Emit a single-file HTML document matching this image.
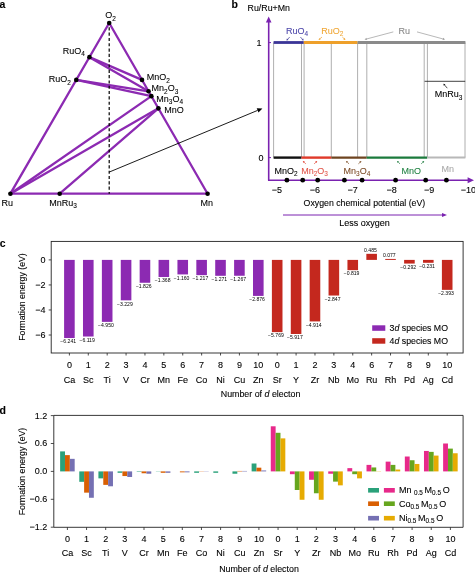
<!DOCTYPE html>
<html><head><meta charset="utf-8"><style>
html,body{margin:0;padding:0;background:#fff;}
svg{display:block;font-family:"Liberation Sans", sans-serif;will-change:transform;}
text{stroke:#000;stroke-width:0.1px;}
</style></head><body>
<svg width="475" height="573" viewBox="0 0 475 573">
<rect width="475" height="573" fill="#fff"/>
<text x="-0.6" y="7.8" font-size="10.5" font-weight="bold">a</text>
<line x1="10.40" y1="193.70" x2="207.60" y2="193.70" stroke="#8c2ab2" stroke-width="2.3" stroke-linecap="round"/>
<line x1="10.40" y1="193.70" x2="109.20" y2="23.00" stroke="#8c2ab2" stroke-width="2.3" stroke-linecap="round"/>
<line x1="109.20" y1="23.00" x2="207.60" y2="193.70" stroke="#8c2ab2" stroke-width="2.3" stroke-linecap="round"/>
<line x1="89.44" y1="57.14" x2="142.00" y2="79.90" stroke="#8c2ab2" stroke-width="2.3" stroke-linecap="round"/>
<line x1="89.44" y1="57.14" x2="148.56" y2="91.28" stroke="#8c2ab2" stroke-width="2.3" stroke-linecap="round"/>
<line x1="76.27" y1="79.90" x2="148.56" y2="91.28" stroke="#8c2ab2" stroke-width="2.3" stroke-linecap="round"/>
<line x1="76.27" y1="79.90" x2="151.37" y2="96.16" stroke="#8c2ab2" stroke-width="2.3" stroke-linecap="round"/>
<line x1="10.40" y1="193.70" x2="151.37" y2="96.16" stroke="#8c2ab2" stroke-width="2.3" stroke-linecap="round"/>
<line x1="10.40" y1="193.70" x2="158.40" y2="108.35" stroke="#8c2ab2" stroke-width="2.3" stroke-linecap="round"/>
<line x1="59.70" y1="193.70" x2="158.40" y2="108.35" stroke="#8c2ab2" stroke-width="2.3" stroke-linecap="round"/>
<line x1="109.2" y1="27.3" x2="109.2" y2="193.7" stroke="#000" stroke-width="1.2" stroke-dasharray="3.1 2.21"/>
<circle cx="10.40" cy="193.70" r="2.3" fill="#000"/>
<circle cx="207.60" cy="193.70" r="2.3" fill="#000"/>
<circle cx="109.20" cy="23.00" r="2.3" fill="#000"/>
<circle cx="89.44" cy="57.14" r="2.3" fill="#000"/>
<circle cx="76.27" cy="79.90" r="2.3" fill="#000"/>
<circle cx="142.00" cy="79.90" r="2.3" fill="#000"/>
<circle cx="148.56" cy="91.28" r="2.3" fill="#000"/>
<circle cx="151.37" cy="96.16" r="2.3" fill="#000"/>
<circle cx="158.40" cy="108.35" r="2.3" fill="#000"/>
<circle cx="59.70" cy="193.70" r="2.3" fill="#000"/>
<text x="105.3" y="18.2" font-size="9" fill="#000" text-anchor="start" style="stroke-width:0.08px;stroke:#000"><tspan>O</tspan><tspan font-size="6.48" dy="2.4">2</tspan></text>
<text x="62.8" y="54.0" font-size="9" fill="#000" text-anchor="start" style="stroke-width:0.08px;stroke:#000"><tspan>RuO</tspan><tspan font-size="6.48" dy="2.4">4</tspan></text>
<text x="48.8" y="82.2" font-size="9" fill="#000" text-anchor="start" style="stroke-width:0.08px;stroke:#000"><tspan>RuO</tspan><tspan font-size="6.48" dy="2.4">2</tspan></text>
<text x="146.8" y="80.1" font-size="9" fill="#000" text-anchor="start" style="stroke-width:0.08px;stroke:#000"><tspan>MnO</tspan><tspan font-size="6.48" dy="2.4">2</tspan></text>
<text x="151.6" y="91.1" font-size="9" fill="#000" text-anchor="start" style="stroke-width:0.08px;stroke:#000"><tspan>Mn</tspan><tspan font-size="6.48" dy="2.4">2</tspan><tspan dy="-2.4">O</tspan><tspan font-size="6.48" dy="2.4">3</tspan></text>
<text x="156.3" y="101.7" font-size="9" fill="#000" text-anchor="start" style="stroke-width:0.08px;stroke:#000"><tspan>Mn</tspan><tspan font-size="6.48" dy="2.4">3</tspan><tspan dy="-2.4">O</tspan><tspan font-size="6.48" dy="2.4">4</tspan></text>
<text x="164.2" y="113.1" font-size="9" fill="#000" text-anchor="start" style="stroke-width:0.08px;stroke:#000"><tspan>MnO</tspan></text>
<text x="1.5" y="205.8" font-size="9" fill="#000" text-anchor="start" style="stroke-width:0.08px;stroke:#000"><tspan>Ru</tspan></text>
<text x="49.3" y="205.8" font-size="9" fill="#000" text-anchor="start" style="stroke-width:0.08px;stroke:#000"><tspan>MnRu</tspan><tspan font-size="6.48" dy="2.4">3</tspan></text>
<text x="200.6" y="205.8" font-size="9" fill="#000" text-anchor="start" style="stroke-width:0.08px;stroke:#000"><tspan>Mn</tspan></text>
<text x="231.6" y="7.8" font-size="10.5" font-weight="bold">b</text>
<text x="247.6" y="11.2" font-size="8.8">Ru/Ru+Mn</text>
<line x1="268.7" y1="21" x2="268.7" y2="180.4" stroke="#7a22b0" stroke-width="1.6"/>
<path d="M268.7,16.6 L265.9,22.4 L271.5,22.4 Z" fill="#7a22b0"/>
<line x1="268" y1="180.3" x2="468.5" y2="180.3" stroke="#7a22b0" stroke-width="1.6"/>
<path d="M474,180.3 L467.6,177.3 L467.6,183.3 Z" fill="#7a22b0"/>
<line x1="268.7" y1="42.6" x2="271" y2="42.6" stroke="#7a22b0" stroke-width="1"/>
<line x1="268.7" y1="157.6" x2="271" y2="157.6" stroke="#7a22b0" stroke-width="1"/>
<text x="259.0" y="46" font-size="9" text-anchor="middle">1</text>
<text x="261" y="161" font-size="9" text-anchor="middle">0</text>
<line x1="273.6" y1="42.4" x2="273.6" y2="157.6" stroke="#9a9a9a" stroke-width="0.8"/>
<line x1="301.5" y1="42.4" x2="301.5" y2="157.6" stroke="#9a9a9a" stroke-width="0.8"/>
<line x1="304.1" y1="42.4" x2="304.1" y2="157.6" stroke="#9a9a9a" stroke-width="0.8"/>
<line x1="331.3" y1="42.4" x2="331.3" y2="157.6" stroke="#9a9a9a" stroke-width="0.8"/>
<line x1="357.6" y1="42.4" x2="357.6" y2="157.6" stroke="#9a9a9a" stroke-width="0.8"/>
<line x1="366.8" y1="42.4" x2="366.8" y2="157.6" stroke="#9a9a9a" stroke-width="0.8"/>
<line x1="424.2" y1="42.4" x2="424.2" y2="157.6" stroke="#9a9a9a" stroke-width="0.8"/>
<line x1="427.4" y1="42.4" x2="427.4" y2="157.6" stroke="#9a9a9a" stroke-width="0.8"/>
<line x1="465.0" y1="42.4" x2="465.0" y2="157.6" stroke="#9a9a9a" stroke-width="0.8"/>
<line x1="273.6" y1="42.5" x2="303.8" y2="42.5" stroke="#3a3597" stroke-width="2.8"/>
<line x1="303.8" y1="42.5" x2="357.6" y2="42.5" stroke="#eea02a" stroke-width="2.8"/>
<line x1="357.6" y1="42.5" x2="465.4" y2="42.5" stroke="#8a8a8a" stroke-width="2.8"/>
<line x1="273.6" y1="157.6" x2="301.5" y2="157.6" stroke="#111" stroke-width="2.4"/>
<line x1="301.5" y1="157.6" x2="331.3" y2="157.6" stroke="#e03a2a" stroke-width="2.4"/>
<line x1="331.3" y1="157.6" x2="366.7" y2="157.6" stroke="#6e4420" stroke-width="2.4"/>
<line x1="366.7" y1="157.6" x2="427.2" y2="157.6" stroke="#1b7a3c" stroke-width="2.4"/>
<line x1="427.2" y1="157.6" x2="465.4" y2="157.6" stroke="#b8b8b8" stroke-width="2.0"/>
<line x1="424.6" y1="81.3" x2="465.2" y2="81.3" stroke="#111" stroke-width="0.8"/>
<text x="286.0" y="33.8" font-size="9" fill="#4d47aa" text-anchor="start" style="stroke-width:0.08px;stroke:#4d47aa"><tspan>RuO</tspan><tspan font-size="6.48" dy="2.4">4</tspan></text>
<text x="321.3" y="33.6" font-size="9" fill="#f0a838" text-anchor="start" style="stroke-width:0.08px;stroke:#f0a838"><tspan>RuO</tspan><tspan font-size="6.48" dy="2.4">2</tspan></text>
<text x="404.2" y="33.8" font-size="9" fill="#888" text-anchor="middle" style="stroke-width:0.08px;stroke:#888">Ru</text>
<text x="434.7" y="97.1" font-size="9" fill="#000" text-anchor="start" style="stroke-width:0.08px;stroke:#000"><tspan>MnRu</tspan><tspan font-size="6.48" dy="2.4">3</tspan></text>
<text x="274.6" y="173.8" font-size="9" fill="#000" text-anchor="start" style="stroke-width:0.08px;stroke:#000"><tspan>MnO</tspan><tspan font-size="6.48" dy="2.4">2</tspan></text>
<text x="301.2" y="173.8" font-size="9" fill="#e2574c" text-anchor="start" style="stroke-width:0.08px;stroke:#e2574c"><tspan>Mn</tspan><tspan font-size="6.48" dy="2.4">2</tspan><tspan dy="-2.4">O</tspan><tspan font-size="6.48" dy="2.4">3</tspan></text>
<text x="343.6" y="173.8" font-size="9" fill="#7d4d28" text-anchor="start" style="stroke-width:0.08px;stroke:#7d4d28"><tspan>Mn</tspan><tspan font-size="6.48" dy="2.4">3</tspan><tspan dy="-2.4">O</tspan><tspan font-size="6.48" dy="2.4">4</tspan></text>
<text x="401.6" y="173.8" font-size="9" fill="#218243" text-anchor="start" style="stroke-width:0.08px;stroke:#218243"><tspan>MnO</tspan></text>
<text x="441.6" y="171.6" font-size="9" fill="#aaa" style="stroke-width:0.08px;stroke:#aaa">Mn</text>
<line x1="289.70" y1="37.00" x2="287.70" y2="39.25" stroke="#3a3597" stroke-width="0.7"/><path d="M286.50,40.60 L286.87,38.52 L288.52,39.99 Z" fill="#3a3597"/>
<line x1="300.40" y1="37.00" x2="302.40" y2="39.25" stroke="#3a3597" stroke-width="0.7"/><path d="M303.60,40.60 L301.58,39.99 L303.23,38.52 Z" fill="#3a3597"/>
<line x1="322.00" y1="37.00" x2="319.97" y2="38.73" stroke="#eea02a" stroke-width="0.7"/><path d="M318.60,39.90 L319.26,37.89 L320.68,39.57 Z" fill="#eea02a"/>
<line x1="342.30" y1="37.00" x2="344.09" y2="38.67" stroke="#eea02a" stroke-width="0.7"/><path d="M345.40,39.90 L343.33,39.47 L344.84,37.87 Z" fill="#eea02a"/>
<line x1="447.30" y1="88.20" x2="444.58" y2="85.06" stroke="#000" stroke-width="0.7"/><path d="M443.40,83.70 L445.41,84.34 L443.75,85.78 Z" fill="#000"/>
<line x1="305.80" y1="163.80" x2="304.14" y2="162.30" stroke="#e03a2a" stroke-width="0.7"/><path d="M302.80,161.10 L304.87,161.49 L303.40,163.12 Z" fill="#e03a2a"/>
<line x1="314.20" y1="163.80" x2="315.86" y2="162.30" stroke="#e03a2a" stroke-width="0.7"/><path d="M317.20,161.10 L316.60,163.12 L315.13,161.49 Z" fill="#e03a2a"/>
<line x1="349.00" y1="163.80" x2="347.34" y2="162.30" stroke="#7a4a20" stroke-width="0.7"/><path d="M346.00,161.10 L348.07,161.49 L346.60,163.12 Z" fill="#7a4a20"/>
<line x1="358.40" y1="163.80" x2="360.06" y2="162.30" stroke="#7a4a20" stroke-width="0.7"/><path d="M361.40,161.10 L360.80,163.12 L359.33,161.49 Z" fill="#7a4a20"/>
<line x1="400.00" y1="163.80" x2="398.34" y2="162.30" stroke="#1b7a3c" stroke-width="0.7"/><path d="M397.00,161.10 L399.07,161.49 L397.60,163.12 Z" fill="#1b7a3c"/>
<line x1="421.20" y1="163.80" x2="422.86" y2="162.30" stroke="#1b7a3c" stroke-width="0.7"/><path d="M424.20,161.10 L423.60,163.12 L422.13,161.49 Z" fill="#1b7a3c"/>
<line x1="109.40" y1="172.00" x2="257.60" y2="110.40" stroke="#000" stroke-width="0.9"/><path d="M262.40,108.40 L258.48,112.52 L256.72,108.27 Z" fill="#000"/>
<line x1="393.30" y1="31.90" x2="366.73" y2="38.94" stroke="#999" stroke-width="0.7"/><path d="M364.60,39.50 L366.42,37.78 L367.03,40.10 Z" fill="#999"/>
<line x1="417.00" y1="31.90" x2="442.88" y2="38.92" stroke="#999" stroke-width="0.7"/><path d="M445.00,39.50 L442.56,40.08 L443.19,37.77 Z" fill="#999"/>
<circle cx="286.9" cy="180.2" r="2.4" fill="#000"/>
<circle cx="302.7" cy="180.2" r="2.4" fill="#000"/>
<circle cx="317.7" cy="180.2" r="2.4" fill="#000"/>
<circle cx="344.4" cy="180.2" r="2.4" fill="#000"/>
<circle cx="362.1" cy="180.2" r="2.4" fill="#000"/>
<circle cx="395.6" cy="180.2" r="2.4" fill="#000"/>
<circle cx="425.7" cy="180.2" r="2.4" fill="#000"/>
<circle cx="446.4" cy="180.2" r="2.4" fill="#000"/>
<text x="277.0" y="193.2" font-size="9" text-anchor="middle">−5</text>
<text x="314.90000000000003" y="193.2" font-size="9" text-anchor="middle">−6</text>
<text x="352.6" y="193.2" font-size="9" text-anchor="middle">−7</text>
<text x="391.70000000000005" y="193.2" font-size="9" text-anchor="middle">−8</text>
<text x="429.1" y="193.2" font-size="9" text-anchor="middle">−9</text>
<text x="468.3" y="193.2" font-size="9" text-anchor="middle">−10</text>
<text x="303.6" y="206.4" font-size="8.75">Oxygen chemical potential (eV)</text>
<line x1="283" y1="215" x2="444" y2="215" stroke="#7a22b0" stroke-width="1"/>
<path d="M447,215 L442,213 L442,217 Z" fill="#7a22b0"/>
<text x="339.3" y="226.4" font-size="9">Less oxygen</text>
<text x="-0.3" y="246.7" font-size="10.5" font-weight="bold">c</text>
<rect x="51.2" y="241.4" width="411.90000000000003" height="111.6" fill="none" stroke="#222" stroke-width="0.9"/>
<line x1="48.7" y1="259.90" x2="51.2" y2="259.90" stroke="#222" stroke-width="0.8"/>
<text x="45.6" y="262.80" font-size="9" text-anchor="end">0</text>
<line x1="48.7" y1="284.94" x2="51.2" y2="284.94" stroke="#222" stroke-width="0.8"/>
<text x="45.6" y="287.84" font-size="9" text-anchor="end">−2</text>
<line x1="48.7" y1="309.98" x2="51.2" y2="309.98" stroke="#222" stroke-width="0.8"/>
<text x="45.6" y="312.88" font-size="9" text-anchor="end">−4</text>
<line x1="48.7" y1="335.02" x2="51.2" y2="335.02" stroke="#222" stroke-width="0.8"/>
<text x="45.6" y="337.92" font-size="9" text-anchor="end">−6</text>
<text transform="translate(25.3,297) rotate(-90)" font-size="8.75" text-anchor="middle">Formation energy (eV)</text>
<rect x="64.10" y="259.90" width="10.6" height="78.14" fill="#8c2ab2"/>
<text x="68.20" y="343.24" font-size="5.1" text-anchor="middle" style="stroke-width:0">−6.241</text>
<line x1="69.40" y1="353.0" x2="69.40" y2="355.5" stroke="#222" stroke-width="0.8"/>
<text x="69.40" y="368.2" font-size="9" text-anchor="middle">0</text>
<text x="69.40" y="382.5" font-size="9" text-anchor="middle">Ca</text>
<rect x="82.99" y="259.90" width="10.6" height="76.61" fill="#8c2ab2"/>
<text x="87.09" y="341.71" font-size="5.1" text-anchor="middle" style="stroke-width:0">−6.119</text>
<line x1="88.29" y1="353.0" x2="88.29" y2="355.5" stroke="#222" stroke-width="0.8"/>
<text x="88.29" y="368.2" font-size="9" text-anchor="middle">1</text>
<text x="88.29" y="382.5" font-size="9" text-anchor="middle">Sc</text>
<rect x="101.88" y="259.90" width="10.6" height="61.97" fill="#8c2ab2"/>
<text x="105.98" y="327.07" font-size="5.1" text-anchor="middle" style="stroke-width:0">−4.950</text>
<line x1="107.18" y1="353.0" x2="107.18" y2="355.5" stroke="#222" stroke-width="0.8"/>
<text x="107.18" y="368.2" font-size="9" text-anchor="middle">2</text>
<text x="107.18" y="382.5" font-size="9" text-anchor="middle">Ti</text>
<rect x="120.77" y="259.90" width="10.6" height="40.43" fill="#8c2ab2"/>
<text x="124.87" y="305.53" font-size="5.1" text-anchor="middle" style="stroke-width:0">−3.229</text>
<line x1="126.07" y1="353.0" x2="126.07" y2="355.5" stroke="#222" stroke-width="0.8"/>
<text x="126.07" y="368.2" font-size="9" text-anchor="middle">3</text>
<text x="126.07" y="382.5" font-size="9" text-anchor="middle">V</text>
<rect x="139.66" y="259.90" width="10.6" height="22.86" fill="#8c2ab2"/>
<text x="143.76" y="287.96" font-size="5.1" text-anchor="middle" style="stroke-width:0">−1.826</text>
<line x1="144.96" y1="353.0" x2="144.96" y2="355.5" stroke="#222" stroke-width="0.8"/>
<text x="144.96" y="368.2" font-size="9" text-anchor="middle">4</text>
<text x="144.96" y="382.5" font-size="9" text-anchor="middle">Cr</text>
<rect x="158.55" y="259.90" width="10.6" height="17.13" fill="#8c2ab2"/>
<text x="162.65" y="282.23" font-size="5.1" text-anchor="middle" style="stroke-width:0">−1.368</text>
<line x1="163.85" y1="353.0" x2="163.85" y2="355.5" stroke="#222" stroke-width="0.8"/>
<text x="163.85" y="368.2" font-size="9" text-anchor="middle">5</text>
<text x="163.85" y="382.5" font-size="9" text-anchor="middle">Mn</text>
<rect x="177.44" y="259.90" width="10.6" height="14.52" fill="#8c2ab2"/>
<text x="181.54" y="279.62" font-size="5.1" text-anchor="middle" style="stroke-width:0">−1.160</text>
<line x1="182.74" y1="353.0" x2="182.74" y2="355.5" stroke="#222" stroke-width="0.8"/>
<text x="182.74" y="368.2" font-size="9" text-anchor="middle">6</text>
<text x="182.74" y="382.5" font-size="9" text-anchor="middle">Fe</text>
<rect x="196.33" y="259.90" width="10.6" height="15.24" fill="#8c2ab2"/>
<text x="200.43" y="280.34" font-size="5.1" text-anchor="middle" style="stroke-width:0">−1.217</text>
<line x1="201.63" y1="353.0" x2="201.63" y2="355.5" stroke="#222" stroke-width="0.8"/>
<text x="201.63" y="368.2" font-size="9" text-anchor="middle">7</text>
<text x="201.63" y="382.5" font-size="9" text-anchor="middle">Co</text>
<rect x="215.22" y="259.90" width="10.6" height="15.91" fill="#8c2ab2"/>
<text x="219.32" y="281.01" font-size="5.1" text-anchor="middle" style="stroke-width:0">−1.271</text>
<line x1="220.52" y1="353.0" x2="220.52" y2="355.5" stroke="#222" stroke-width="0.8"/>
<text x="220.52" y="368.2" font-size="9" text-anchor="middle">8</text>
<text x="220.52" y="382.5" font-size="9" text-anchor="middle">Ni</text>
<rect x="234.11" y="259.90" width="10.6" height="15.86" fill="#8c2ab2"/>
<text x="238.21" y="280.96" font-size="5.1" text-anchor="middle" style="stroke-width:0">−1.267</text>
<line x1="239.41" y1="353.0" x2="239.41" y2="355.5" stroke="#222" stroke-width="0.8"/>
<text x="239.41" y="368.2" font-size="9" text-anchor="middle">9</text>
<text x="239.41" y="382.5" font-size="9" text-anchor="middle">Cu</text>
<rect x="253.00" y="259.90" width="10.6" height="36.01" fill="#8c2ab2"/>
<text x="257.10" y="301.11" font-size="5.1" text-anchor="middle" style="stroke-width:0">−2.876</text>
<line x1="258.30" y1="353.0" x2="258.30" y2="355.5" stroke="#222" stroke-width="0.8"/>
<text x="258.30" y="368.2" font-size="9" text-anchor="middle">10</text>
<text x="258.30" y="382.5" font-size="9" text-anchor="middle">Zn</text>
<rect x="271.89" y="259.90" width="10.6" height="72.23" fill="#c4281e"/>
<text x="275.99" y="337.33" font-size="5.1" text-anchor="middle" style="stroke-width:0">−5.769</text>
<line x1="277.19" y1="353.0" x2="277.19" y2="355.5" stroke="#222" stroke-width="0.8"/>
<text x="277.19" y="368.2" font-size="9" text-anchor="middle">0</text>
<text x="277.19" y="382.5" font-size="9" text-anchor="middle">Sr</text>
<rect x="290.78" y="259.90" width="10.6" height="74.08" fill="#c4281e"/>
<text x="294.88" y="339.18" font-size="5.1" text-anchor="middle" style="stroke-width:0">−5.917</text>
<line x1="296.08" y1="353.0" x2="296.08" y2="355.5" stroke="#222" stroke-width="0.8"/>
<text x="296.08" y="368.2" font-size="9" text-anchor="middle">1</text>
<text x="296.08" y="382.5" font-size="9" text-anchor="middle">Y</text>
<rect x="309.67" y="259.90" width="10.6" height="61.52" fill="#c4281e"/>
<text x="313.77" y="326.62" font-size="5.1" text-anchor="middle" style="stroke-width:0">−4.914</text>
<line x1="314.97" y1="353.0" x2="314.97" y2="355.5" stroke="#222" stroke-width="0.8"/>
<text x="314.97" y="368.2" font-size="9" text-anchor="middle">2</text>
<text x="314.97" y="382.5" font-size="9" text-anchor="middle">Zr</text>
<rect x="328.56" y="259.90" width="10.6" height="35.64" fill="#c4281e"/>
<text x="332.66" y="300.74" font-size="5.1" text-anchor="middle" style="stroke-width:0">−2.847</text>
<line x1="333.86" y1="353.0" x2="333.86" y2="355.5" stroke="#222" stroke-width="0.8"/>
<text x="333.86" y="368.2" font-size="9" text-anchor="middle">3</text>
<text x="333.86" y="382.5" font-size="9" text-anchor="middle">Nb</text>
<rect x="347.45" y="259.90" width="10.6" height="10.25" fill="#c4281e"/>
<text x="351.55" y="275.35" font-size="5.1" text-anchor="middle" style="stroke-width:0">−0.819</text>
<line x1="352.75" y1="353.0" x2="352.75" y2="355.5" stroke="#222" stroke-width="0.8"/>
<text x="352.75" y="368.2" font-size="9" text-anchor="middle">4</text>
<text x="352.75" y="382.5" font-size="9" text-anchor="middle">Mo</text>
<rect x="366.34" y="253.83" width="10.6" height="6.07" fill="#c4281e"/>
<text x="370.44" y="252.33" font-size="5.1" text-anchor="middle" style="stroke-width:0">0.485</text>
<line x1="371.64" y1="353.0" x2="371.64" y2="355.5" stroke="#222" stroke-width="0.8"/>
<text x="371.64" y="368.2" font-size="9" text-anchor="middle">6</text>
<text x="371.64" y="382.5" font-size="9" text-anchor="middle">Ru</text>
<rect x="385.23" y="258.94" width="10.6" height="0.96" fill="#c4281e"/>
<text x="389.33" y="257.44" font-size="5.1" text-anchor="middle" style="stroke-width:0">0.077</text>
<line x1="390.53" y1="353.0" x2="390.53" y2="355.5" stroke="#222" stroke-width="0.8"/>
<text x="390.53" y="368.2" font-size="9" text-anchor="middle">7</text>
<text x="390.53" y="382.5" font-size="9" text-anchor="middle">Rh</text>
<rect x="404.12" y="259.90" width="10.6" height="3.66" fill="#c4281e"/>
<text x="408.22" y="268.76" font-size="5.1" text-anchor="middle" style="stroke-width:0">−0.292</text>
<line x1="409.42" y1="353.0" x2="409.42" y2="355.5" stroke="#222" stroke-width="0.8"/>
<text x="409.42" y="368.2" font-size="9" text-anchor="middle">8</text>
<text x="409.42" y="382.5" font-size="9" text-anchor="middle">Pd</text>
<rect x="423.01" y="259.90" width="10.6" height="2.89" fill="#c4281e"/>
<text x="427.11" y="267.99" font-size="5.1" text-anchor="middle" style="stroke-width:0">−0.231</text>
<line x1="428.31" y1="353.0" x2="428.31" y2="355.5" stroke="#222" stroke-width="0.8"/>
<text x="428.31" y="368.2" font-size="9" text-anchor="middle">9</text>
<text x="428.31" y="382.5" font-size="9" text-anchor="middle">Ag</text>
<rect x="441.90" y="259.90" width="10.6" height="29.96" fill="#c4281e"/>
<text x="446.00" y="295.06" font-size="5.1" text-anchor="middle" style="stroke-width:0">−2.393</text>
<line x1="447.20" y1="353.0" x2="447.20" y2="355.5" stroke="#222" stroke-width="0.8"/>
<text x="447.20" y="368.2" font-size="9" text-anchor="middle">10</text>
<text x="447.20" y="382.5" font-size="9" text-anchor="middle">Cd</text>
<text x="260.6" y="396.9" font-size="8.85" text-anchor="middle">Number of <tspan font-style="italic">d</tspan> electon</text>
<rect x="372.2" y="325.3" width="13.1" height="5.5" fill="#8c2ab2"/>
<rect x="372.2" y="338.2" width="13.1" height="5.5" fill="#c4281e"/>
<text x="389.6" y="331" font-size="8.75">3<tspan font-style="italic">d</tspan> species MO</text>
<text x="389.6" y="344" font-size="8.75">4<tspan font-style="italic">d</tspan> species MO</text>
<text x="-0.5" y="414.1" font-size="10.5" font-weight="bold">d</text>
<path d="M53.8,415.4 L463.1,415.4 L463.1,527.3 L53.8,527.3 Z" fill="none" stroke="#222" stroke-width="0.9"/>
<line x1="50.8" y1="415.60" x2="53.8" y2="415.60" stroke="#222" stroke-width="0.8"/>
<text x="47.2" y="418.50" font-size="9" text-anchor="end">1.2</text>
<line x1="50.8" y1="443.50" x2="53.8" y2="443.50" stroke="#222" stroke-width="0.8"/>
<text x="47.2" y="446.40" font-size="9" text-anchor="end">0.6</text>
<line x1="50.8" y1="471.40" x2="53.8" y2="471.40" stroke="#222" stroke-width="0.8"/>
<text x="47.2" y="474.30" font-size="9" text-anchor="end">0.0</text>
<line x1="50.8" y1="499.30" x2="53.8" y2="499.30" stroke="#222" stroke-width="0.8"/>
<text x="47.2" y="502.20" font-size="9" text-anchor="end">−0.6</text>
<line x1="50.8" y1="527.20" x2="53.8" y2="527.20" stroke="#222" stroke-width="0.8"/>
<text x="47.2" y="530.10" font-size="9" text-anchor="end">−1.2</text>
<text transform="translate(25.4,471.5) rotate(-90)" font-size="8.75" text-anchor="middle">Formation energy (eV)</text>
<rect x="60.13" y="451.40" width="4.85" height="20.00" fill="#2aa17a"/>
<rect x="64.98" y="455.12" width="4.85" height="16.27" fill="#d95f02"/>
<rect x="69.83" y="458.84" width="4.85" height="12.56" fill="#7570b3"/>
<line x1="67.40" y1="527.3" x2="67.40" y2="530.0" stroke="#222" stroke-width="0.8"/>
<text x="67.40" y="542.1" font-size="9" text-anchor="middle">0</text>
<text x="67.40" y="556" font-size="9" text-anchor="middle">Ca</text>
<rect x="79.28" y="471.40" width="4.85" height="10.42" fill="#2aa17a"/>
<rect x="84.12" y="471.40" width="4.85" height="21.25" fill="#d95f02"/>
<rect x="88.98" y="471.40" width="4.85" height="26.37" fill="#7570b3"/>
<line x1="86.55" y1="527.3" x2="86.55" y2="530.0" stroke="#222" stroke-width="0.8"/>
<text x="86.55" y="542.1" font-size="9" text-anchor="middle">1</text>
<text x="86.55" y="556" font-size="9" text-anchor="middle">Sc</text>
<rect x="98.42" y="471.40" width="4.85" height="6.97" fill="#2aa17a"/>
<rect x="103.27" y="471.40" width="4.85" height="13.48" fill="#d95f02"/>
<rect x="108.12" y="471.40" width="4.85" height="14.88" fill="#7570b3"/>
<line x1="105.70" y1="527.3" x2="105.70" y2="530.0" stroke="#222" stroke-width="0.8"/>
<text x="105.70" y="542.1" font-size="9" text-anchor="middle">2</text>
<text x="105.70" y="556" font-size="9" text-anchor="middle">Ti</text>
<rect x="117.57" y="471.40" width="4.85" height="1.40" fill="#2aa17a"/>
<rect x="122.42" y="471.40" width="4.85" height="4.65" fill="#d95f02"/>
<rect x="127.27" y="471.40" width="4.85" height="5.58" fill="#7570b3"/>
<line x1="124.85" y1="527.3" x2="124.85" y2="530.0" stroke="#222" stroke-width="0.8"/>
<text x="124.85" y="542.1" font-size="9" text-anchor="middle">3</text>
<text x="124.85" y="556" font-size="9" text-anchor="middle">V</text>
<rect x="136.72" y="471.40" width="4.85" height="0.47" fill="#2aa17a"/>
<rect x="141.57" y="471.40" width="4.85" height="1.86" fill="#d95f02"/>
<rect x="146.42" y="471.40" width="4.85" height="2.33" fill="#7570b3"/>
<line x1="144.00" y1="527.3" x2="144.00" y2="530.0" stroke="#222" stroke-width="0.8"/>
<text x="144.00" y="542.1" font-size="9" text-anchor="middle">4</text>
<text x="144.00" y="556" font-size="9" text-anchor="middle">Cr</text>
<rect x="155.88" y="471.40" width="4.85" height="0.23" fill="#2aa17a"/>
<rect x="160.72" y="471.40" width="4.85" height="1.40" fill="#d95f02"/>
<rect x="165.57" y="471.40" width="4.85" height="1.40" fill="#7570b3"/>
<line x1="163.15" y1="527.3" x2="163.15" y2="530.0" stroke="#222" stroke-width="0.8"/>
<text x="163.15" y="542.1" font-size="9" text-anchor="middle">5</text>
<text x="163.15" y="556" font-size="9" text-anchor="middle">Mn</text>
<rect x="179.88" y="471.40" width="4.85" height="0.93" fill="#d95f02"/>
<rect x="184.72" y="471.40" width="4.85" height="0.93" fill="#7570b3"/>
<line x1="182.30" y1="527.3" x2="182.30" y2="530.0" stroke="#222" stroke-width="0.8"/>
<text x="182.30" y="542.1" font-size="9" text-anchor="middle">6</text>
<text x="182.30" y="556" font-size="9" text-anchor="middle">Fe</text>
<rect x="194.17" y="471.40" width="4.85" height="1.40" fill="#2aa17a"/>
<rect x="199.02" y="471.40" width="4.85" height="0.23" fill="#d95f02"/>
<rect x="203.87" y="471.40" width="4.85" height="0.23" fill="#7570b3"/>
<line x1="201.45" y1="527.3" x2="201.45" y2="530.0" stroke="#222" stroke-width="0.8"/>
<text x="201.45" y="542.1" font-size="9" text-anchor="middle">7</text>
<text x="201.45" y="556" font-size="9" text-anchor="middle">Co</text>
<rect x="213.32" y="471.40" width="4.85" height="1.40" fill="#2aa17a"/>
<line x1="220.60" y1="527.3" x2="220.60" y2="530.0" stroke="#222" stroke-width="0.8"/>
<text x="220.60" y="542.1" font-size="9" text-anchor="middle">8</text>
<text x="220.60" y="556" font-size="9" text-anchor="middle">Ni</text>
<rect x="232.47" y="471.40" width="4.85" height="2.33" fill="#2aa17a"/>
<rect x="237.32" y="470.94" width="4.85" height="0.47" fill="#d95f02"/>
<rect x="242.17" y="470.94" width="4.85" height="0.47" fill="#7570b3"/>
<line x1="239.75" y1="527.3" x2="239.75" y2="530.0" stroke="#222" stroke-width="0.8"/>
<text x="239.75" y="542.1" font-size="9" text-anchor="middle">9</text>
<text x="239.75" y="556" font-size="9" text-anchor="middle">Cu</text>
<rect x="251.62" y="463.50" width="4.85" height="7.91" fill="#2aa17a"/>
<rect x="256.47" y="467.68" width="4.85" height="3.72" fill="#d95f02"/>
<rect x="261.32" y="470.47" width="4.85" height="0.93" fill="#7570b3"/>
<line x1="258.90" y1="527.3" x2="258.90" y2="530.0" stroke="#222" stroke-width="0.8"/>
<text x="258.90" y="542.1" font-size="9" text-anchor="middle">10</text>
<text x="258.90" y="556" font-size="9" text-anchor="middle">Zn</text>
<rect x="270.77" y="426.29" width="4.85" height="45.10" fill="#e7298a"/>
<rect x="275.62" y="432.80" width="4.85" height="38.59" fill="#66a61e"/>
<rect x="280.47" y="438.38" width="4.85" height="33.02" fill="#e6ab02"/>
<line x1="278.05" y1="527.3" x2="278.05" y2="530.0" stroke="#222" stroke-width="0.8"/>
<text x="278.05" y="542.1" font-size="9" text-anchor="middle">0</text>
<text x="278.05" y="556" font-size="9" text-anchor="middle">Sr</text>
<rect x="289.93" y="471.40" width="4.85" height="2.79" fill="#e7298a"/>
<rect x="294.78" y="471.40" width="4.85" height="18.60" fill="#66a61e"/>
<rect x="299.62" y="471.40" width="4.85" height="28.36" fill="#e6ab02"/>
<line x1="297.20" y1="527.3" x2="297.20" y2="530.0" stroke="#222" stroke-width="0.8"/>
<text x="297.20" y="542.1" font-size="9" text-anchor="middle">1</text>
<text x="297.20" y="556" font-size="9" text-anchor="middle">Y</text>
<rect x="309.08" y="471.40" width="4.85" height="8.37" fill="#e7298a"/>
<rect x="313.93" y="471.40" width="4.85" height="21.86" fill="#66a61e"/>
<rect x="318.78" y="471.40" width="4.85" height="28.36" fill="#e6ab02"/>
<line x1="316.35" y1="527.3" x2="316.35" y2="530.0" stroke="#222" stroke-width="0.8"/>
<text x="316.35" y="542.1" font-size="9" text-anchor="middle">2</text>
<text x="316.35" y="556" font-size="9" text-anchor="middle">Zr</text>
<rect x="328.23" y="471.40" width="4.85" height="2.33" fill="#e7298a"/>
<rect x="333.08" y="471.40" width="4.85" height="10.23" fill="#66a61e"/>
<rect x="337.93" y="471.40" width="4.85" height="13.95" fill="#e6ab02"/>
<line x1="335.50" y1="527.3" x2="335.50" y2="530.0" stroke="#222" stroke-width="0.8"/>
<text x="335.50" y="542.1" font-size="9" text-anchor="middle">3</text>
<text x="335.50" y="556" font-size="9" text-anchor="middle">Nb</text>
<rect x="347.38" y="468.14" width="4.85" height="3.26" fill="#e7298a"/>
<rect x="352.23" y="471.40" width="4.85" height="2.79" fill="#66a61e"/>
<rect x="357.07" y="471.40" width="4.85" height="6.97" fill="#e6ab02"/>
<line x1="354.65" y1="527.3" x2="354.65" y2="530.0" stroke="#222" stroke-width="0.8"/>
<text x="354.65" y="542.1" font-size="9" text-anchor="middle">4</text>
<text x="354.65" y="556" font-size="9" text-anchor="middle">Mo</text>
<rect x="366.52" y="464.89" width="4.85" height="6.51" fill="#e7298a"/>
<rect x="371.38" y="467.45" width="4.85" height="3.95" fill="#66a61e"/>
<rect x="376.22" y="471.17" width="4.85" height="0.23" fill="#e6ab02"/>
<line x1="373.80" y1="527.3" x2="373.80" y2="530.0" stroke="#222" stroke-width="0.8"/>
<text x="373.80" y="542.1" font-size="9" text-anchor="middle">6</text>
<text x="373.80" y="556" font-size="9" text-anchor="middle">Ru</text>
<rect x="385.67" y="461.63" width="4.85" height="9.76" fill="#e7298a"/>
<rect x="390.52" y="464.89" width="4.85" height="6.51" fill="#66a61e"/>
<rect x="395.37" y="469.54" width="4.85" height="1.86" fill="#e6ab02"/>
<line x1="392.95" y1="527.3" x2="392.95" y2="530.0" stroke="#222" stroke-width="0.8"/>
<text x="392.95" y="542.1" font-size="9" text-anchor="middle">7</text>
<text x="392.95" y="556" font-size="9" text-anchor="middle">Rh</text>
<rect x="404.83" y="456.52" width="4.85" height="14.88" fill="#e7298a"/>
<rect x="409.68" y="460.24" width="4.85" height="11.16" fill="#66a61e"/>
<rect x="414.53" y="463.96" width="4.85" height="7.44" fill="#e6ab02"/>
<line x1="412.10" y1="527.3" x2="412.10" y2="530.0" stroke="#222" stroke-width="0.8"/>
<text x="412.10" y="542.1" font-size="9" text-anchor="middle">8</text>
<text x="412.10" y="556" font-size="9" text-anchor="middle">Pd</text>
<rect x="423.98" y="450.94" width="4.85" height="20.46" fill="#e7298a"/>
<rect x="428.83" y="451.87" width="4.85" height="19.53" fill="#66a61e"/>
<rect x="433.68" y="455.59" width="4.85" height="15.81" fill="#e6ab02"/>
<line x1="431.25" y1="527.3" x2="431.25" y2="530.0" stroke="#222" stroke-width="0.8"/>
<text x="431.25" y="542.1" font-size="9" text-anchor="middle">9</text>
<text x="431.25" y="556" font-size="9" text-anchor="middle">Ag</text>
<rect x="443.12" y="443.50" width="4.85" height="27.90" fill="#e7298a"/>
<rect x="447.98" y="448.61" width="4.85" height="22.79" fill="#66a61e"/>
<rect x="452.82" y="453.26" width="4.85" height="18.14" fill="#e6ab02"/>
<line x1="450.40" y1="527.3" x2="450.40" y2="530.0" stroke="#222" stroke-width="0.8"/>
<text x="450.40" y="542.1" font-size="9" text-anchor="middle">10</text>
<text x="450.40" y="556" font-size="9" text-anchor="middle">Cd</text>
<text x="259" y="572.4" font-size="8.85" text-anchor="middle">Number of <tspan font-style="italic">d</tspan> electon</text>
<rect x="368.1" y="488.0" width="10.9" height="4.6" fill="#2aa17a"/>
<rect x="383.9" y="488.0" width="10.9" height="4.6" fill="#e7298a"/>
<text x="398.9" y="493.3" font-size="9">Mn <tspan font-size="6.4" dy="2.1">0.5 </tspan><tspan dy="-2.1">M</tspan><tspan font-size="6.4" dy="2.1">0.5 </tspan><tspan dy="-2.1">O</tspan></text>
<rect x="368.1" y="501.4" width="10.9" height="4.6" fill="#d95f02"/>
<rect x="383.9" y="501.4" width="10.9" height="4.6" fill="#66a61e"/>
<text x="398.9" y="506.7" font-size="9">Co<tspan font-size="6.4" dy="2.1">0.5 </tspan><tspan dy="-2.1">M</tspan><tspan font-size="6.4" dy="2.1">0.5 </tspan><tspan dy="-2.1">O</tspan></text>
<rect x="368.1" y="515.9" width="10.9" height="4.6" fill="#7570b3"/>
<rect x="383.9" y="515.9" width="10.9" height="4.6" fill="#e6ab02"/>
<text x="398.9" y="521.1999999999999" font-size="9">Ni<tspan font-size="6.4" dy="2.1">0.5 </tspan><tspan dy="-2.1">M</tspan><tspan font-size="6.4" dy="2.1">0.5 </tspan><tspan dy="-2.1">O</tspan></text>
</svg>
</body></html>
